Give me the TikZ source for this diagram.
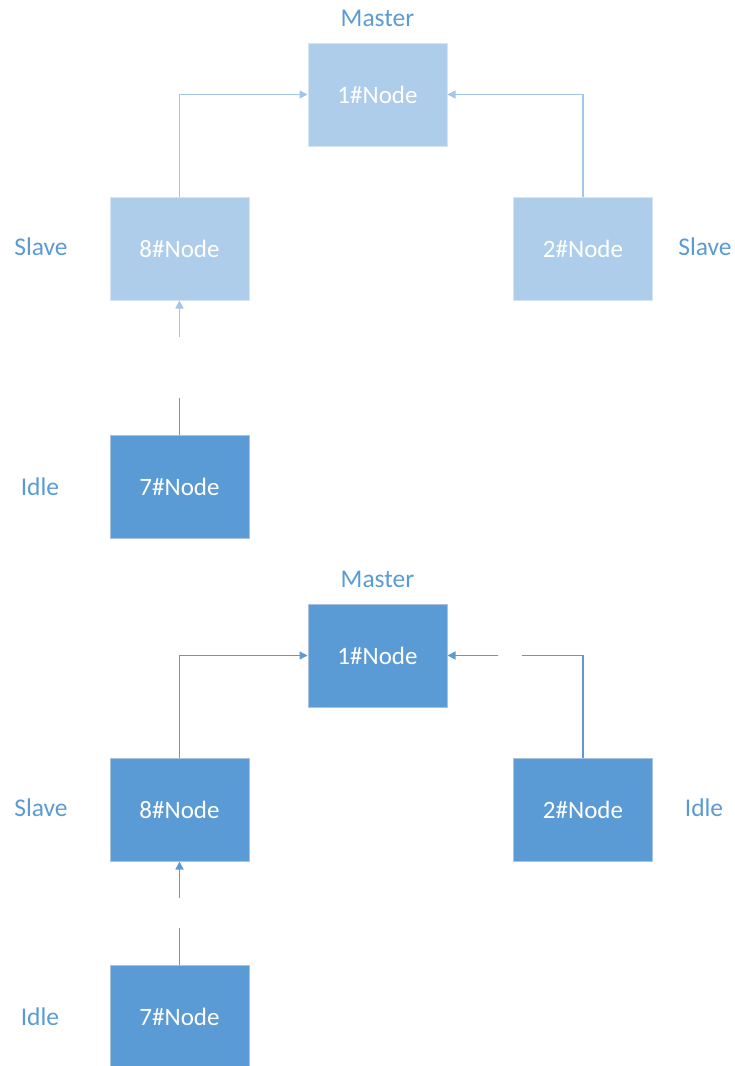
\documentclass[tikz,border=0pt]{standalone}
\usepackage{fontspec}
\setmainfont{Carlito}
\usetikzlibrary{arrows.meta}
\definecolor{lightbox}{HTML}{AECDEA}
\definecolor{darkbox}{HTML}{5B9BD5}
\definecolor{lightln}{HTML}{A4C6E6}
\definecolor{darkln}{HTML}{5B9BD5}
\definecolor{lbl}{HTML}{5B9BD5}
\definecolor{lightedge}{HTML}{D6E5F3}
\definecolor{darkedge}{HTML}{A9C3DE}
\tikzset{
  x=1pt, y=-1pt,
  nodebox/.style={minimum width=139pt, minimum height=103pt, inner sep=0pt, font=\fontsize{25}{30}\selectfont, text=white, line width=1pt},
  lightnode/.style={nodebox, fill=lightbox, draw=lightedge},
  darknode/.style={nodebox, fill=darkbox, draw=darkedge},
  rolelabel/.style={font=\fontsize{25.5}{30}\selectfont, text=lbl},
  lline/.style={draw=lightln, line width=1.5pt},
  dline/.style={draw=darkln, line width=1.5pt},
  tip/.style={-{Triangle[length=8pt,width=8pt]}},
}
\begin{document}
\begin{tikzpicture}
\useasboundingbox (0,0) rectangle (734,1066);
\clip (0,0) rectangle (734,1066);
% ---------- top diagram ----------
\node[lightnode] (t1) at (377.5,94.5) {1\#Node};
\node[lightnode] (t8) at (179.5,248.5) {8\#Node};
\node[lightnode] (t2) at (583,248.5) {2\#Node};
\node[darknode] (t7) at (179.5,486.5) {7\#Node};
\node[rolelabel] (tm) at (377.5,18) {Master};
\node[rolelabel] (ts8) at (41,247) {Slave};
\node[rolelabel] (ts2) at (705,247) {Slave};
\node[rolelabel] (ti7) at (40,487) {Idle};
\draw[lline,tip] (t8.north) |- (t1.west);
\draw[lline,tip] (t2.north) |- (t1.east);
\coordinate (tg1) at (179.5,398);
\coordinate (tg2) at (179.5,337);
\draw[dline] (t7.north) -- (tg1);
\draw[lline,tip] (tg2) -- (t8.south);
% ---------- bottom diagram ----------
\node[darknode] (b1) at (377.5,655.5) {1\#Node};
\node[darknode] (b8) at (179.5,809.5) {8\#Node};
\node[darknode] (b2) at (583,809.5) {2\#Node};
\node[darknode] (b7) at (179.5,1016.5) {7\#Node};
\node[rolelabel] (bm) at (377.5,579) {Master};
\node[rolelabel] (bs8) at (41,808) {Slave};
\node[rolelabel] (bi2) at (704,808) {Idle};
\node[rolelabel] (bi7) at (40,1017) {Idle};
\draw[dline,tip] (b8.north) |- (b1.west);
\coordinate (bg1) at (522,655.5);
\coordinate (bg2) at (498,655.5);
\draw[dline] (b2.north) |- (bg1);
\draw[dline,tip] (bg2) -- (b1.east);
\coordinate (bg3) at (179.5,928);
\coordinate (bg4) at (179.5,898);
\draw[dline] (b7.north) -- (bg3);
\draw[dline,tip] (bg4) -- (b8.south);
\end{tikzpicture}
\end{document}
